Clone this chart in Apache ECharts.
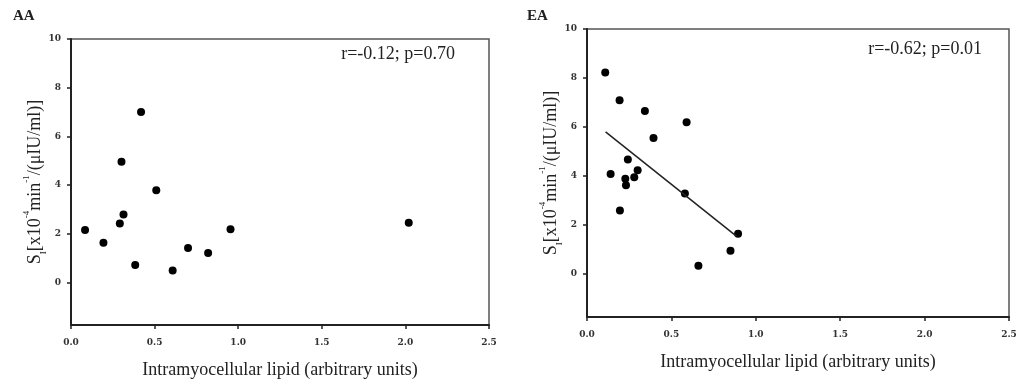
<!DOCTYPE html>
<html>
<head>
<meta charset="utf-8">
<script src="https://cdn.jsdelivr.net/npm/echarts@6/dist/echarts.min.js"></script>
<style>
  html, body { margin: 0; padding: 0; background: #fff; }
  #chart { width: 1022px; height: 389px; }
</style>
</head>
<body>
<div id="chart"></div>
<script>
// AA panel
const aaX = [0.084, 0.194, 0.292, 0.302, 0.314, 0.384, 0.419, 0.51, 0.608, 0.70, 0.82, 0.954, 2.02];
const aaY = [2.15, 1.63, 2.42, 4.96, 2.79, 0.71, 7.0, 3.79, 0.49, 1.41, 1.21, 2.18, 2.45];
// EA panel
const eaX = [0.108, 0.14, 0.193, 0.195, 0.227, 0.231, 0.242, 0.28, 0.30, 0.343, 0.394, 0.58, 0.59, 0.66, 0.85, 0.895];
const eaY = [8.23, 4.08, 7.09, 2.6, 3.89, 3.63, 4.68, 3.95, 4.24, 6.65, 5.55, 3.29, 6.2, 0.34, 0.95, 1.65];
// EA regression line ends
const fitX = [0.11, 0.885];
const fitY = [5.8, 1.55];

const yTicks = [0, 2, 4, 6, 8, 10];
const xTicks = [0, 0.5, 1.0, 1.5, 2.0, 2.5];
const statsAA = 'r=-0.12; p=0.70';
const statsEA = 'r=-0.62; p=0.01';
const xName = 'Intramyocellular lipid (arbitrary units)';

const serif = '"Liberation Serif", "DejaVu Serif", serif';
const tickFont = '"DejaVu Serif", serif';

function pairs(xs, ys) {
  return xs.map((x, i) => [x, ys[i]]);
}

function xAxis(gridIndex) {
  return {
    type: 'value', gridIndex: gridIndex,
    min: 0, max: 2.5, interval: 0.5,
    name: xName, nameLocation: 'middle', nameGap: 36,
    nameTextStyle: { fontFamily: serif, fontSize: 18, color: '#222' },
    axisLine: { onZero: false, lineStyle: { color: '#222', width: 2 } },
    axisTick: { customValues: xTicks, length: 4, lineStyle: { color: '#222', width: 1.5 } },
    axisLabel: {
      customValues: xTicks, margin: 13,
      fontFamily: tickFont, fontWeight: 'bold', fontSize: 9, color: '#333',
      formatter: v => v.toFixed(1)
    },
    splitLine: { show: false }
  };
}

function yAxis(gridIndex) {
  return {
    type: 'value', gridIndex: gridIndex,
    min: -1.75, max: 10,
    name: '{n|S}{sub|I}{n|[x10}{sup|-4}{n|min}{sup|-1}{n|/(μIU/ml)]}',
    nameLocation: 'middle', nameGap: 27, nameRotate: 90, nameMoveOverlap: false,
    nameTextStyle: {
      fontFamily: serif, fontSize: 18, color: '#222',
      rich: {
        n: { fontFamily: serif, fontSize: 18, color: '#222' },
        sub: { fontFamily: serif, fontSize: 9, color: '#222', verticalAlign: 'bottom', padding: [0, 0, -4, 0] },
        sup: { fontFamily: serif, fontSize: 9, color: '#222', verticalAlign: 'top', padding: [-4, 0, 0, 0] }
      }
    },
    axisLine: { onZero: false, lineStyle: { color: '#222', width: 2 } },
    axisTick: { customValues: yTicks, length: 4, lineStyle: { color: '#222', width: 1.5 } },
    axisLabel: {
      customValues: yTicks, margin: 10,
      fontFamily: tickFont, fontWeight: 'bold', fontSize: 9, color: '#333'
    },
    splitLine: { show: false }
  };
}

const chart = echarts.init(document.getElementById('chart'));
chart.setOption({
  backgroundColor: '#fff',
  animation: false,
  grid: [
    { left: 71, top: 39, width: 418, height: 286, show: true, borderColor: '#555', borderWidth: 1.5, backgroundColor: 'transparent' },
    { left: 587, top: 29, width: 422, height: 288, show: true, borderColor: '#555', borderWidth: 1.5, backgroundColor: 'transparent' }
  ],
  xAxis: [xAxis(0), xAxis(1)],
  yAxis: [yAxis(0), yAxis(1)],
  graphic: [
    { type: 'text', left: 13, top: 9, style: { text: 'AA', font: 'bold 15px ' + serif, fill: '#222' } },
    { type: 'text', left: 527, top: 9, style: { text: 'EA', font: 'bold 15px ' + serif, fill: '#222' } },
    { type: 'text', right: 1022 - 455, top: 45, style: { text: statsAA, font: '18px ' + serif, fill: '#222' } },
    { type: 'text', right: 1022 - 982, top: 40, style: { text: statsEA, font: '18px ' + serif, fill: '#222' } }
  ],
  series: [
    {
      type: 'scatter', xAxisIndex: 0, yAxisIndex: 0,
      data: pairs(aaX, aaY), symbolSize: 8,
      itemStyle: { color: '#000', opacity: 1 }
    },
    {
      type: 'scatter', xAxisIndex: 1, yAxisIndex: 1,
      data: pairs(eaX, eaY), symbolSize: 8,
      itemStyle: { color: '#000', opacity: 1 }
    },
    {
      type: 'line', xAxisIndex: 1, yAxisIndex: 1,
      data: pairs(fitX, fitY), showSymbol: false,
      lineStyle: { color: '#222', width: 1.5 }
    }
  ]
});
</script>
</body>
</html>
